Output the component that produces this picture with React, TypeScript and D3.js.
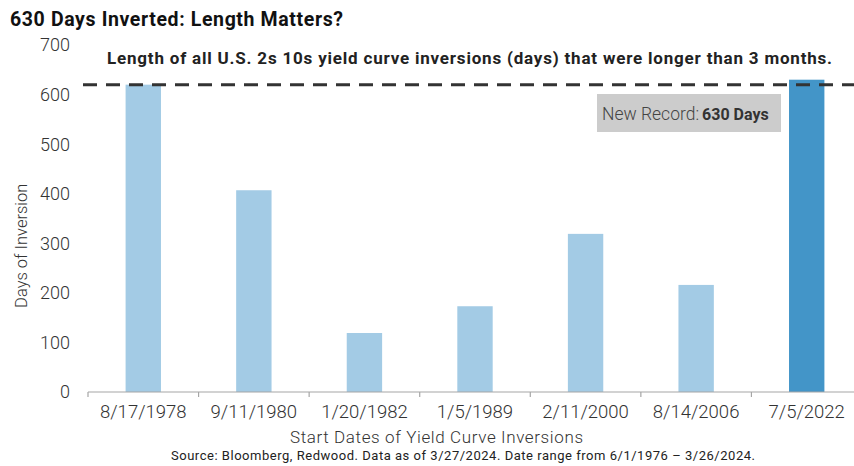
import React from 'react';
import * as d3 from 'd3';

const categories = ['8/17/1978', '9/11/1980', '1/20/1982', '1/5/1989', '2/11/2000', '8/14/2006', '7/5/2022'];
const daysInverted = [620, 407, 119, 173, 319, 216, 630];
const yTicks = [0, 100, 200, 300, 400, 500, 600, 700];
const previousRecord = 620;

const width = 854;
const height = 466;
const margin = { left: 88, right: -8, top: 45, bottom: 74 };

export default function App() {
  const x = d3.scaleBand<string>()
    .domain(categories)
    .range([margin.left, width - margin.right])
    .paddingInner(0.68)
    .paddingOuter(0.34);
  const y = d3.scaleLinear().domain([0, 700]).range([height - margin.bottom, margin.top]);
  const font = 'Roboto, "Liberation Sans", sans-serif';
  const step = x.step();
  const x0 = margin.left;

  return (
    <svg width={width} height={height} style={{ position: 'absolute', left: 0, top: 0 }} fontFamily={font}>
      <rect width={width} height={height} fill="#fff" />
      <text x={10} y={26} fontSize={19.5} fontWeight={700} fill="#111" textLength={333} lengthAdjust="spacing">630 Days Inverted: Length Matters?</text>

      {yTicks.map(t => (
        <text key={t} x={70} y={y(t)} dy="0.36em" textAnchor="end" fontSize={18} fill="#333" fontWeight={300}>{t}</text>
      ))}
      <text transform={`translate(27,${y(295)}) rotate(-90)`} textAnchor="middle" fontSize={16.5} fill="#333" fontWeight={300}>Days of Inversion</text>

      {categories.map((c, i) => (
        <rect key={c} x={x(c)} y={y(daysInverted[i])} width={x.bandwidth()} height={y(0) - y(daysInverted[i])}
          fill={i === categories.length - 1 ? '#4395c8' : '#a3cbe5'} />
      ))}

      <line x1={x0} x2={width} y1={y(0)} y2={y(0)} stroke="#a6a6a6" strokeWidth={1.2} />
      {d3.range(categories.length + 1).map(i => (
        <line key={i} x1={x0 + i * step} x2={x0 + i * step} y1={y(0)} y2={y(0) + 5} stroke="#a6a6a6" strokeWidth={1.2} />
      ))}
      {categories.map(c => (
        <text key={c} x={x(c)! + x.bandwidth() / 2} y={418} textAnchor="middle" fontSize={18.5} fill="#333" fontWeight={300}>{c}</text>
      ))}

      <line x1={83} x2={width} y1={y(previousRecord)} y2={y(previousRecord)} stroke="#333" strokeWidth={3} strokeDasharray="14 9" />

      <text x={107} y={64} fontSize={17} fontWeight={700} fill="#222" textLength={725} lengthAdjust="spacing">
        Length of all U.S. 2s 10s yield curve inversions (days) that were longer than 3 months.
      </text>

      <rect x={597} y={94} width={184} height={38} fill="#cccccc" />
      <text x={602} y={120} fontSize={17.5} fill="#444" fontWeight={300}>
        New Record:<tspan dx={3} fontWeight={700} fontSize={16} fill="#333">630 Days</tspan>
      </text>

      <text x={290} y={443} fontSize={17} fill="#333" fontWeight={300} textLength={293} lengthAdjust="spacing">Start Dates of Yield Curve Inversions</text>
      <text x={171} y={460} fontSize={13} fill="#222" textLength={584} lengthAdjust="spacing">
        Source: Bloomberg, Redwood. Data as of 3/27/2024. Date range from 6/1/1976 – 3/26/2024.
      </text>
    </svg>
  );
}
